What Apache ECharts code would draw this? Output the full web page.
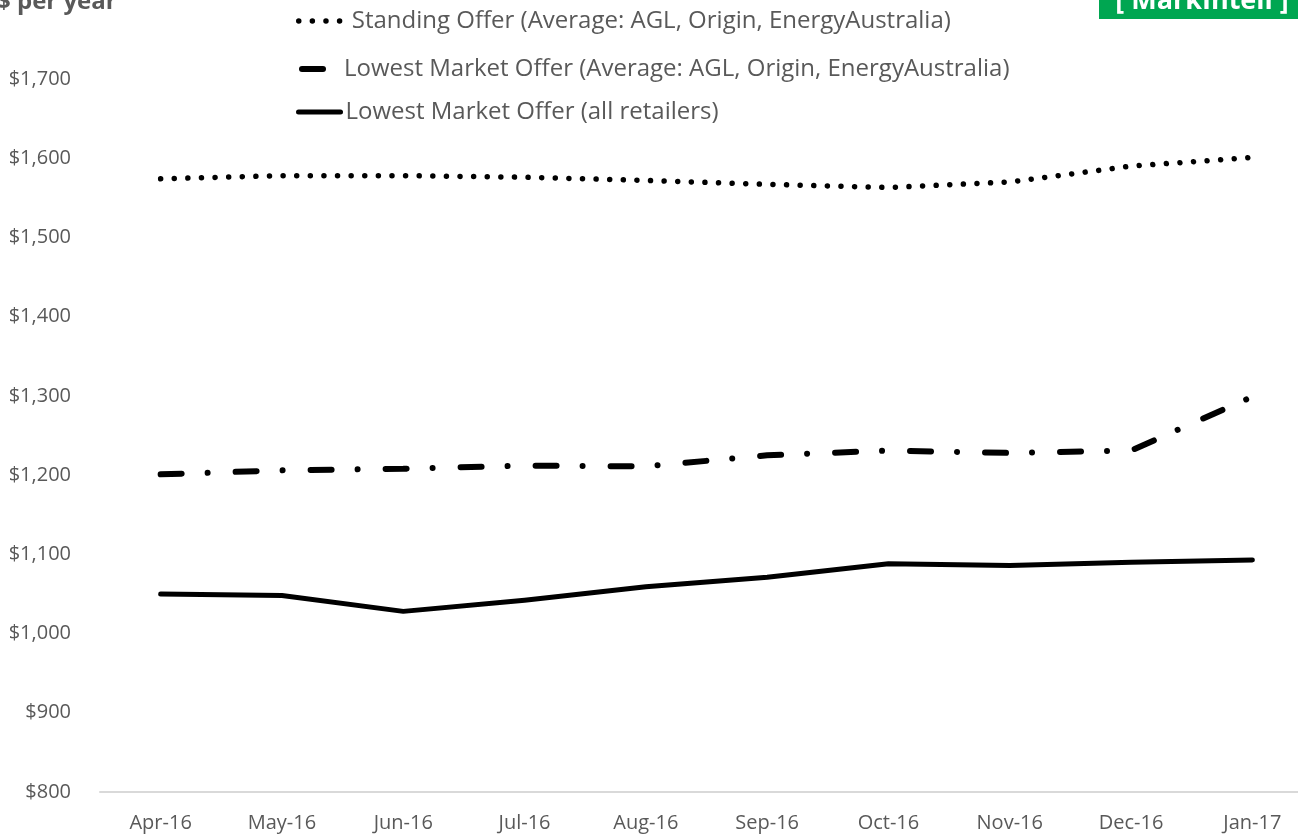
<!DOCTYPE html>
<html>
<head>
<meta charset="utf-8">
<script src="https://cdn.jsdelivr.net/npm/echarts@6/dist/echarts.min.js"></script>
<style>html,body{margin:0;padding:0;background:#fff;}#c{width:1298px;height:835px;}</style>
</head>
<body>
<div id="c"></div>
<script>
var categories = ['Apr-16','May-16','Jun-16','Jul-16','Aug-16','Sep-16','Oct-16','Nov-16','Dec-16','Jan-17'];
var standingOffer = [1574, 1578, 1578, 1576, 1572, 1567, 1563, 1570, 1590, 1601];
var lowestMarketAvg = [1201, 1206, 1208, 1212, 1211, 1225, 1231, 1228, 1231, 1299];
var lowestMarketAll = [1050, 1048, 1028, 1042, 1059, 1071, 1088, 1086, 1090, 1093];
var yTicks = {min: 800, max: 1700, interval: 100};
var seriesNames = ['Standing Offer (Average: AGL, Origin, EnergyAustralia)', 'Lowest Market Offer (Average: AGL, Origin, EnergyAustralia)', 'Lowest Market Offer (all retailers)'];

var FONT = 'Open Sans';
var GRAY = '#595959';
var chart = echarts.init(document.getElementById('c'));
function legendFor(name, left, top, w) {
  return {
    data: [name], left: left, top: top, orient: 'vertical',
    itemWidth: w, itemHeight: 14, padding: 0, selectedMode: false,
    textStyle: {fontFamily: FONT, fontSize: 24, color: GRAY},
    lineStyle: {width: 'inherit'},
    itemStyle: {color: 'rgba(0,0,0,0)', borderWidth: 0, opacity: 0}
  };
}
chart.setOption({
  animation: false,
  title: {text: '$ per year', left: -8, top: -15, textStyle: {fontFamily: FONT, fontSize: 24, fontWeight: 'bold', color: GRAY}},
  graphic: [
    {type: 'rect', shape: {x: 1099, y: 0, width: 199, height: 19}, style: {fill: '#00a651'}},
    {type: 'text', x: 1202, y: 15, style: {text: '[ MarkIntell ]', fill: '#fff', font: 'bold 27px "Open Sans"', textAlign: 'center', textVerticalAlign: 'bottom'}}
  ],
  legend: [
    legendFor(seriesNames[0], 296, 9, 48),
    legendFor(seriesNames[1], 299, 57, 37),
    legendFor(seriesNames[2], 296, 100, 42)
  ],
  grid: {left: 100, top: 79, width: 1213, bottom: 43, containLabel: false, outerBoundsMode: 'none'},
  xAxis: {
    type: 'category', data: categories, boundaryGap: true,
    axisLine: {lineStyle: {color: '#d9d9d9', width: 2}},
    axisTick: {show: false},
    axisLabel: {fontFamily: FONT, fontSize: 20, color: GRAY, margin: 21}
  },
  yAxis: {
    type: 'value', min: yTicks.min, max: yTicks.max, interval: yTicks.interval,
    axisLine: {show: false}, axisTick: {show: false}, splitLine: {show: false},
    axisLabel: {fontFamily: FONT, fontSize: 20, color: GRAY, margin: 29,
      formatter: function (v) { return '$' + v.toLocaleString('en-US'); }}
  },
  series: [
    {name: seriesNames[0], type: 'line', data: standingOffer, symbol: 'none', itemStyle: {color: '#000'},
      lineStyle: {color: '#000', width: 5.5, type: [0.01, 13.6], cap: 'round'}},
    {name: seriesNames[1], type: 'line', data: lowestMarketAvg, symbol: 'none', itemStyle: {color: '#000'},
      lineStyle: {color: '#000', width: 6, type: [21, 26, 0.01, 28], cap: 'round'}},
    {name: seriesNames[2], type: 'line', data: lowestMarketAll, symbol: 'none', itemStyle: {color: '#000'},
      lineStyle: {color: '#000', width: 5, cap: 'round', join: 'round'}}
  ]
});
</script>
</body>
</html>
